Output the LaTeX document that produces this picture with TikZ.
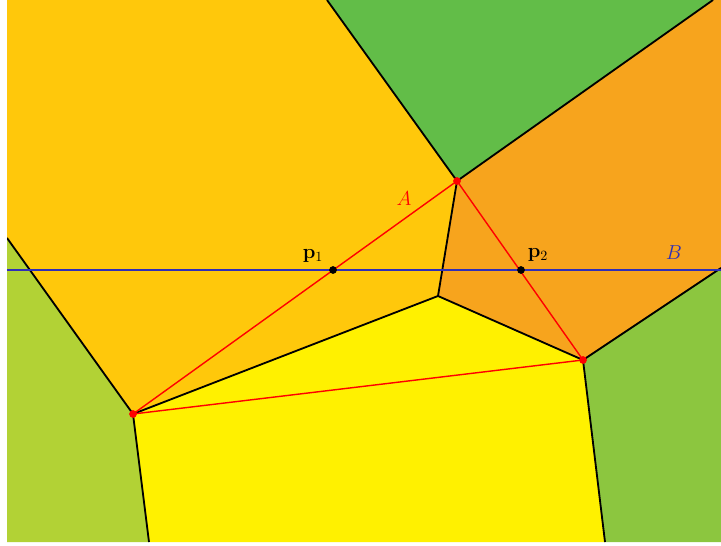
\documentclass[tikz,border=0pt]{standalone}
\usetikzlibrary{positioning}
\definecolor{cAmber}{HTML}{FFC80B}
\definecolor{cLeaf}{HTML}{62BD48}
\definecolor{cOrange}{HTML}{F7A41D}
\definecolor{cGrass}{HTML}{8CC63F}
\definecolor{cYellow}{HTML}{FFF100}
\definecolor{cLime}{HTML}{B2D235}
\definecolor{cLine}{HTML}{2E2EB8}

\begin{document}
\begin{tikzpicture}[
  x=0.025cm, y=-0.025cm,
  edge/.style={draw=black, line width=1.3pt},
  tri/.style={draw=red, line width=1pt},
  sweep/.style={draw=cLine, line width=1pt},
  site/.style={circle, fill=black, inner sep=0pt, minimum size=5.5pt},
  corner/.style={circle, fill=red, inner sep=0pt, minimum size=5.5pt},
  lbl/.style={font=\Large, inner sep=1pt},
]
\useasboundingbox (0,0) rectangle (721,545);

% ---- Vertices ----
\coordinate (tl) at (7,0);
\coordinate (tr) at (721,0);
\coordinate (bl) at (7,542);
\coordinate (br) at (721,542);
\coordinate (ltop) at (7,238);
\coordinate (rtop) at (721,268);
\coordinate (ttop) at (327,0);
\coordinate (ttr) at (713,0);
\coordinate (bm) at (149,542);
\coordinate (bmr) at (605,542);
\coordinate (vA) at (457,181);
\coordinate (vB) at (583,360);
\coordinate (vC) at (133,414);
\coordinate (vD) at (438,296);

% ---- Cells ----
\begin{scope}
  \clip (tl) rectangle (br);
  \fill[cAmber] (tl) -- (ttop) -- (vA) -- (vD) -- (vC) -- (ltop) -- cycle;
  \fill[cLeaf] (ttop) -- (ttr) -- (vA) -- cycle;
  \fill[cOrange] (ttr) -- (tr) -- (rtop) -- (vB) -- (vD) -- (vA) -- cycle;
  \fill[cGrass] (rtop) -- (br) -- (bmr) -- (vB) -- cycle;
  \fill[cYellow] (vD) -- (vB) -- (bmr) -- (bm) -- (vC) -- cycle;
  \fill[cLime] (ltop) -- (vC) -- (bm) -- (bl) -- cycle;

  \draw[edge] (ttop) -- (vA) -- (ttr);
  \draw[edge] (vA) -- (vD) -- (vC) -- (ltop);
  \draw[edge] (vD) -- (vB) -- (rtop);
  \draw[edge] (vC) -- (bm);
  \draw[edge] (vB) -- (bmr);
\end{scope}

% ---- Sweep line ----
\coordinate (sl) at (7,270);
\coordinate (sr) at (721,270);
\draw[sweep] (sl) -- (sr);

% ---- Triangle ----
\draw[tri] (vC) -- (vA) -- (vB) -- cycle;
\node[corner] (cA) at (vA) {};
\node[corner] (cB) at (vB) {};
\node[corner] (cC) at (vC) {};

% ---- Sites ----
\node[site] (p1) at (333,270) {};
\node[site] (p2) at (521,270) {};
\node[lbl] at (313,256) {$\mathbf{p}_1$};
\node[lbl] at (538,255) {$\mathbf{p}_2$};
\node[lbl, text=red] (la) at (404,199) {$A$};
\node[lbl, text=cLine] (lb) at (674,253) {$B$};
\end{tikzpicture}
\end{document}
